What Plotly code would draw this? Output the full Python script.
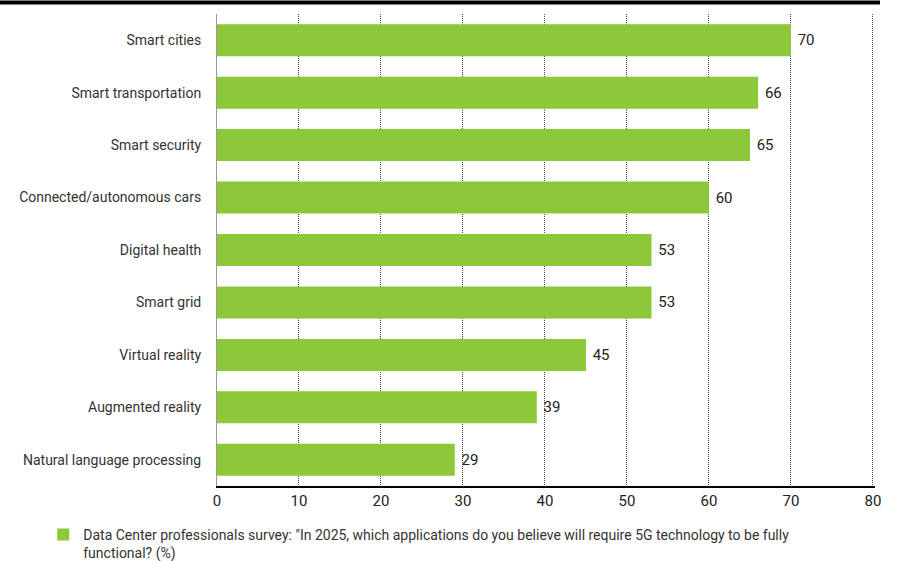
import plotly.graph_objects as go

categories = ["Smart cities", "Smart transportation", "Smart security",
              "Connected/autonomous cars", "Digital health", "Smart grid",
              "Virtual reality", "Augmented reality", "Natural language processing"]
values = [70, 66, 65, 60, 53, 53, 45, 39, 29]
tick_vals = [0, 10, 20, 30, 40, 50, 60, 70, 80]
series_name = ('Data Center professionals survey: "In 2025, which applications do you believe will require 5G technology to be fully'
               '<br>functional? (%)')

FONT = "Roboto, sans-serif"

fig = go.Figure()
fig.add_trace(go.Bar(
    y=categories, x=values, orientation="h",
    marker=dict(color="#8cc83a", line=dict(width=0)),
    text=[str(v) for v in values], texttemplate=" %{text}", textposition="outside",
    textfont=dict(size=15, color="#222222", family=FONT),
    cliponaxis=False,
    name=series_name, showlegend=True,
))

fig.update_layout(
    width=901, height=561,
    margin=dict(l=217, r=26, t=14, b=75, autoexpand=False),
    paper_bgcolor="white", plot_bgcolor="white",
    font=dict(family=FONT, size=14, color="#333333"),
    bargap=0.39,
    showlegend=True,
    legend=dict(orientation="h", xref="container", x=0.048, xanchor="left",
                yref="container", y=1 - 519 / 561, yanchor="top", valign="top",
                font=dict(size=14, color="#333333"),
                itemwidth=30, tracegroupgap=0),
    xaxis=dict(range=[0, 80.25], tickvals=tick_vals, showgrid=True,
               gridcolor="#444444", griddash="1px,1px", gridwidth=1,
               showline=True, linecolor="#000000", linewidth=2,
               zeroline=False, ticks="", tickfont=dict(size=15, color="#222222"),
               fixedrange=True),
    yaxis=dict(categoryorder="array", categoryarray=categories[::-1],
               showline=True, linecolor="#999999", linewidth=1,
               ticks="", ticklabelstandoff=12, tickfont=dict(size=14, color="#333333"),
               fixedrange=True),
    shapes=[dict(type="line", xref="paper", yref="paper", x0=-217/658, x1=(880-217)/658,
                 y0=1+(14-2.5)/472, y1=1+(14-2.5)/472, line=dict(color="black", width=4))],
)

fig.write_html("out.html", config={"displayModeBar": False},
               post_script="document.body.style.margin='0';")
